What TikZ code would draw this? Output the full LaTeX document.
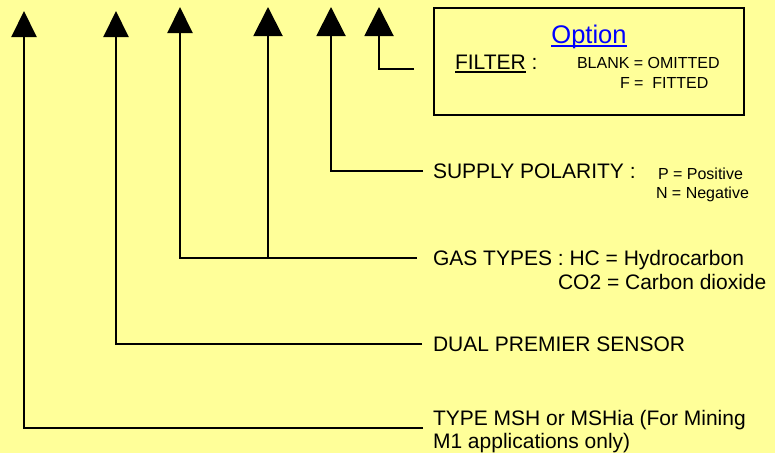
\documentclass[tikz,border=0pt]{standalone}
\usepackage{fontspec}
\setmainfont{Liberation Sans}
\usetikzlibrary{arrows.meta,positioning}
\definecolor{bgyellow}{RGB}{255,255,153}
\definecolor{optblue}{RGB}{0,0,255}
\newcommand{\bigtxt}{\fontsize{21}{24}\selectfont}
\newcommand{\smalltxt}{\fontsize{16}{19}\selectfont}
\newcommand{\ulin}[1]{\setbox0\hbox{#1}\rlap{\rule[-3.5pt]{\wd0}{1.6pt}}\box0}

\begin{document}
\begin{tikzpicture}[x=1pt, y=-1pt, line width=2pt,
    pointer/.style={-{Triangle[width=25pt,length=26pt]}},
    bigpointer/.style={-{Triangle[width=29pt,length=29pt]}},
    lbl/.style={anchor=west, inner sep=0pt, text height=15pt, text depth=0pt, font=\bigtxt},
    basetxt/.style={anchor=base west, inner sep=0pt, font=\bigtxt},
    smalltxt/.style={anchor=base west, inner sep=0pt, font=\smalltxt}]
    % background and page size
    \fill[bgyellow] (0,0) rectangle (775,453);
    \useasboundingbox (0,0) rectangle (775,453);

    % arrow tips
    \coordinate (t1) at (24,11);
    \coordinate (t2) at (116,11);
    \coordinate (t3) at (180,7);
    \coordinate (t4) at (268,7);
    \coordinate (t5) at (331,7);
    \coordinate (t6) at (379,7);

    % option box
    \node[draw, line width=2pt, minimum width=310pt, minimum height=107pt, inner sep=0pt] (optbox) at (589,61.5) {};
    \node[anchor=base, inner sep=0pt, text=optblue, font=\fontsize{25.5}{28}\selectfont] (option) at (589,43) {\ulin{Option}};
    \node[basetxt] (filter) at (454,69) {\ulin{FILTER}~:};
    \node[smalltxt] (blank) at (576,68) {BLANK = OMITTED};
    \node[smalltxt] (fitted) at (619,88) {F =~~FITTED};
    \coordinate (f6) at (414,69);

    % labels
    \node[lbl] (supply) at (432,171) {SUPPLY POLARITY :};
    \node[smalltxt] (pos) at (657,179) {P = Positive};
    \node[smalltxt] (neg) at (655,198) {N = Negative};
    \node[lbl] (gas) at (432,258) {GAS TYPES : HC = Hydrocarbon};
    \node[basetxt] (co2) at (557,289) {CO2 = Carbon dioxide};
    \node[lbl] (dual) at (432,344) {DUAL PREMIER SENSOR};
    \node[basetxt] (type) at (432,425) {TYPE MSH or MSHia (For Mining};
    \node[basetxt] (typeb) at (432,448) {M1 applications only)};

    % connectors
    \draw[bigpointer] (f6) -| (t6);
    \draw[bigpointer] ([xshift=-9pt]supply.west) -| (t5);
    \draw[pointer] ([xshift=-15pt]gas.west) -| (t3);
    \draw[bigpointer] (gas.west -| t4) -- (t4);
    \draw[pointer] ([xshift=-10pt]dual.west) -| (t2);
    \draw[pointer] ([xshift=-9pt,yshift=-3pt]type.base west) -| (t1);
\end{tikzpicture}
\end{document}
